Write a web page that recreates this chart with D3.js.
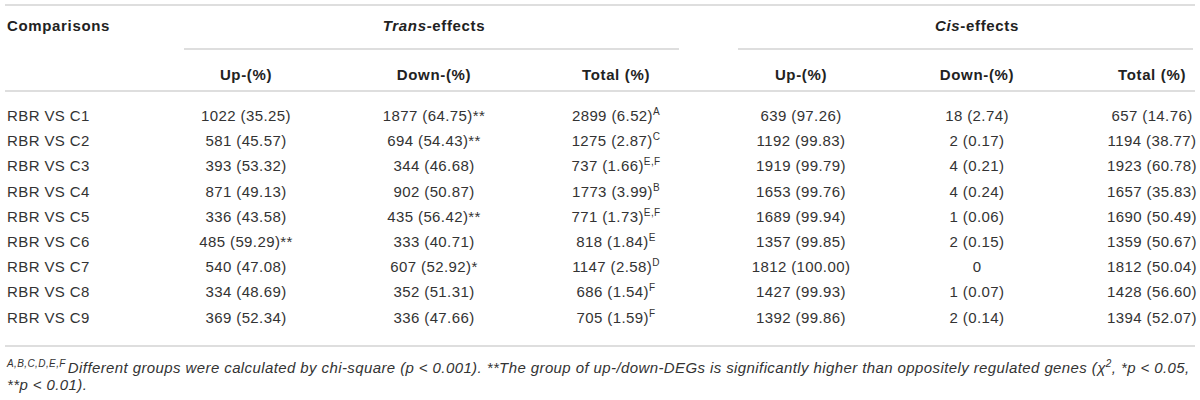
<!DOCTYPE html>
<html>
<head>
<meta charset="utf-8">
<script src="https://d3js.org/d3.v7.min.js"></script>
<style>
  body { margin: 0; background: #fff; }
  text { font-family: "Liberation Sans", Arial, Helvetica, sans-serif; fill: #333; }
  .cell { font-size: 15px; letter-spacing: 0.4px; }
  .head { font-size: 15px; font-weight: bold; fill: #222; letter-spacing: 0.65px; }
  .rule { stroke: #d3d3d3; stroke-width: 1.5; }
  .note { font-size: 15px; font-style: italic; letter-spacing: 0.4px; }
</style>
</head>
<body>
<script>
// table values
var comparisons = ["RBR VS C1", "RBR VS C2", "RBR VS C3", "RBR VS C4", "RBR VS C5",
                   "RBR VS C6", "RBR VS C7", "RBR VS C8", "RBR VS C9"];

var transUp      = [1022, 581, 393, 871, 336, 485, 540, 334, 369];
var transUpPct   = [35.25, 45.57, 53.32, 49.13, 43.58, 59.29, 47.08, 48.69, 52.34];
var transUpSig   = ["", "", "", "", "", "**", "", "", ""];
var transDown    = [1877, 694, 344, 902, 435, 333, 607, 352, 336];
var transDownPct = [64.75, 54.43, 46.68, 50.87, 56.42, 40.71, 52.92, 51.31, 47.66];
var transDownSig = ["**", "**", "", "", "**", "", "*", "", ""];
var transTotal   = [2899, 1275, 737, 1773, 771, 818, 1147, 686, 705];
var transTotalPct = [6.52, 2.87, 1.66, 3.99, 1.73, 1.84, 2.58, 1.54, 1.59];
var transGroup   = ["A", "C", "E,F", "B", "E,F", "E", "D", "F", "F"];

var cisUp       = [639, 1192, 1919, 1653, 1689, 1357, 1812, 1427, 1392];
var cisUpPct    = [97.26, 99.83, 99.79, 99.76, 99.94, 99.85, 100.00, 99.93, 99.86];
var cisDown     = [18, 2, 4, 4, 1, 2, 0, 1, 2];
var cisDownPct  = [2.74, 0.17, 0.21, 0.24, 0.06, 0.15, null, 0.07, 0.14];
var cisTotal    = [657, 1194, 1923, 1657, 1690, 1359, 1812, 1428, 1394];
var cisTotalPct = [14.76, 38.77, 60.78, 35.83, 50.49, 50.67, 50.04, 56.60, 52.07];

var subHeaders = ["Up-(%)", "Down-(%)", "Total (%)"];

var width = 1200, height = 400;
var f2 = d3.format(".2f");

var svg = d3.select("body").append("svg")
    .attr("width", width)
    .attr("height", height);

var colKeys = ["tUp", "tDown", "tTotal", "cUp", "cDown", "cTotal"];
var x = d3.scaleOrdinal()
    .domain(colKeys)
    .range([246, 434, 616, 801, 977, 1152]);

var y = d3.scaleLinear()
    .domain([0, comparisons.length - 1])
    .range([121, 322.7]);

// rules
var rules = [
  [5, 1195, 5], [184, 679, 49], [738, 1193, 49], [5, 1195, 91], [5, 1195, 346]
];
svg.selectAll("line.rule")
    .data(rules)
    .enter().append("line")
    .attr("class", "rule")
    .attr("x1", function(d) { return d[0]; })
    .attr("x2", function(d) { return d[1]; })
    .attr("y1", function(d) { return d[2]; })
    .attr("y2", function(d) { return d[2]; });

// header row 1
svg.append("text").attr("class", "head")
    .attr("x", 7).attr("y", 31)
    .text("Comparisons");

var groups = [["Trans", "-effects", "tDown"], ["Cis", "-effects", "cDown"]];
groups.forEach(function(g) {
  var t = svg.append("text").attr("class", "head")
      .attr("x", x(g[2])).attr("y", 31)
      .attr("text-anchor", "middle");
  t.append("tspan").style("font-style", "italic").text(g[0]);
  t.append("tspan").text(g[1]);
});

// header row 2
svg.selectAll("text.sub")
    .data(colKeys)
    .enter().append("text")
    .attr("class", "head sub")
    .attr("x", function(d) { return x(d); })
    .attr("y", 80)
    .attr("text-anchor", "middle")
    .text(function(d, i) { return subHeaders[i % 3]; });

// body rows
var rows = comparisons.map(function(c, i) {
  return {
    name: c,
    cells: [
      { key: "tUp", main: transUp[i] + " (" + f2(transUpPct[i]) + ")" + transUpSig[i] },
      { key: "tDown", main: transDown[i] + " (" + f2(transDownPct[i]) + ")" + transDownSig[i] },
      { key: "tTotal", main: transTotal[i] + " (" + f2(transTotalPct[i]) + ")", sup: transGroup[i] },
      { key: "cUp", main: cisUp[i] + " (" + f2(cisUpPct[i]) + ")" },
      { key: "cDown", main: cisDownPct[i] === null ? String(cisDown[i]) : cisDown[i] + " (" + f2(cisDownPct[i]) + ")" },
      { key: "cTotal", main: cisTotal[i] + " (" + f2(cisTotalPct[i]) + ")" }
    ]
  };
});

var row = svg.selectAll("g.row")
    .data(rows)
    .enter().append("g")
    .attr("class", "row")
    .attr("transform", function(d, i) { return "translate(0," + y(i) + ")"; });

row.append("text")
    .attr("class", "cell")
    .attr("x", 7)
    .text(function(d) { return d.name; });

var cell = row.selectAll("text.val")
    .data(function(d) { return d.cells; })
    .enter().append("text")
    .attr("class", "cell val")
    .attr("x", function(d) { return x(d.key); })
    .attr("text-anchor", "middle");

cell.append("tspan").text(function(d) { return d.main; });
cell.filter(function(d) { return d.sup; })
    .append("tspan")
    .attr("dy", -6)
    .style("font-size", "10px")
    .text(function(d) { return d.sup; });

// footnote
var n1 = svg.append("text").attr("class", "note").attr("x", 7).attr("y", 373);
n1.append("tspan").attr("dy", -6).style("font-size", "10px").text("A,B,C,D,E,F");
n1.append("tspan").attr("dy", 6).attr("dx", 2)
  .text("Different groups were calculated by chi-square (p < 0.001). **The group of up-/down-DEGs is significantly higher than oppositely regulated genes (\u03C7");
n1.append("tspan").attr("dy", -6).style("font-size", "10px").text("2");
n1.append("tspan").attr("dy", 6).text(", *p < 0.05,");

svg.append("text").attr("class", "note").attr("x", 7).attr("y", 390)
    .text("**p < 0.01).");
</script>
</body>
</html>
